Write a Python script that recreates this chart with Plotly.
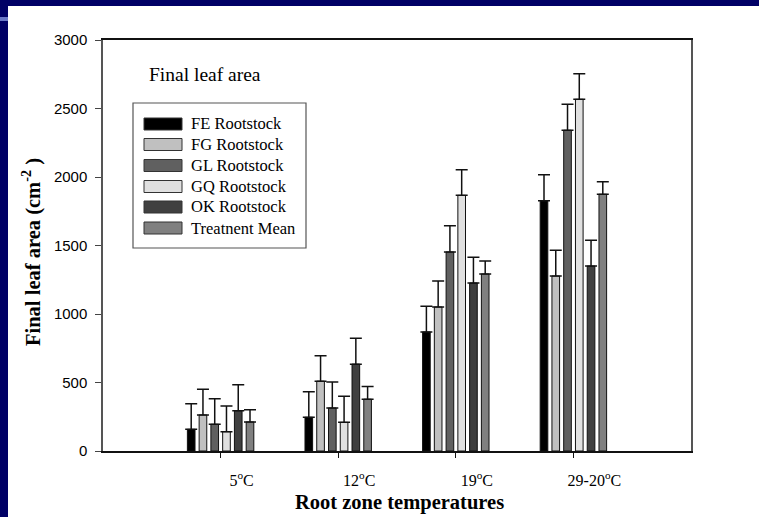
import plotly.graph_objects as go

categories = ["5<sup>o</sup>C", "12<sup>o</sup>C", "19<sup>o</sup>C", "29-20<sup>o</sup>C"]
cat_pos = [1, 2, 3, 4]
series_names = ["FE Rootstock", "FG Rootstock", "GL Rootstock", "GQ Rootstock", "OK Rootstock", "Treatnent Mean"]
fe = [158, 246, 869, 1827]
fg = [263, 510, 1051, 1277]
gl = [195, 314, 1453, 2341]
gq = [141, 209, 1866, 2567]
ok = [294, 634, 1226, 1350]
mean = [212, 378, 1292, 1874]
fe_err = [187, 187, 187, 190]
fg_err = [187, 186, 190, 188]
gl_err = [187, 190, 191, 190]
gq_err = [188, 190, 187, 187]
ok_err = [190, 189, 188, 188]
mean_err = [90, 92, 95, 92]
y_ticks = [0, 500, 1000, 1500, 2000, 2500, 3000]

values = [fe, fg, gl, gq, ok, mean]
errors = [fe_err, fg_err, gl_err, gq_err, ok_err, mean_err]
colors = ["#000000", "#c0c0c0", "#606060", "#e0e0e0", "#404040", "#808080"]

SERIF = "Liberation Serif"
SANS = "Liberation Sans"

fig = go.Figure()
for name, v, e, c in zip(series_names, values, errors, colors):
    fig.add_trace(go.Bar(
        x=cat_pos, y=v, name=name,
        marker=dict(color=c, line=dict(color="#111111", width=1)),
        error_y=dict(type="data", array=e, arrayminus=[0] * len(e), symmetric=False,
                     color="#111111", thickness=1.5, width=6),
        showlegend=False,
    ))

# pixel -> paper helpers
L, R, T, B = 103, 691, 40, 451
W, H = R - L, B - T
def px(x):
    return (x - L) / W
def py(y):
    return (B - y) / H

shapes = []
annotations = []

# slide background strips
shapes.append(dict(type="rect", xref="paper", yref="paper", x0=px(0), x1=px(8), y0=py(0), y1=py(517),
                   fillcolor="#000066", line=dict(width=0)))
shapes.append(dict(type="rect", xref="paper", yref="paper", x0=px(0), x1=px(759), y0=py(0), y1=py(6),
                   fillcolor="#000066", line=dict(width=0)))
shapes.append(dict(type="rect", xref="paper", yref="paper", x0=px(0), x1=px(8), y0=py(17), y1=py(21),
                   fillcolor="#6a78c8", line=dict(width=0)))

# legend box
shapes.append(dict(type="rect", xref="paper", yref="paper", x0=px(133), x1=px(306), y0=py(103), y1=py(248),
                   line=dict(color="#555555", width=1.2), fillcolor="rgba(0,0,0,0)"))
row_y = [124, 144.5, 165.5, 186.5, 207, 228]
for name, c, ry in zip(series_names, colors, row_y):
    shapes.append(dict(type="rect", xref="paper", yref="paper", x0=px(144), x1=px(182),
                       y0=py(ry + 6), y1=py(ry - 6), fillcolor=c, line=dict(color="#333333", width=1)))
    annotations.append(dict(xref="paper", yref="paper", x=px(189), y=py(ry), text=name, showarrow=False,
                            xanchor="left", yanchor="middle", font=dict(family=SERIF, size=16.5, color="#000")))

annotations.append(dict(xref="paper", yref="paper", x=px(147), y=py(74), text="Final leaf area", showarrow=False,
                        xanchor="left", yanchor="middle", font=dict(family=SERIF, size=19.5, color="#000")))
annotations.append(dict(xref="paper", yref="paper", x=px(400), y=py(502), text="<b>Root zone temperatures</b>",
                        showarrow=False, xanchor="center", yanchor="middle",
                        font=dict(family=SERIF, size=20.5, color="#000")))
annotations.append(dict(xref="paper", yref="paper", x=px(31), y=py(252),
                        text="<b>Final leaf area (cm<sup>-2</sup> )</b>", showarrow=False, textangle=-90,
                        xanchor="center", yanchor="middle", font=dict(family=SERIF, size=20.5, color="#000")))

fig.update_layout(
    width=759, height=517,
    margin=dict(l=L, r=759 - R, t=T, b=517 - B),
    paper_bgcolor="white", plot_bgcolor="white",
    barmode="group", bargap=0.4, bargroupgap=0.35,
    shapes=shapes, annotations=annotations,
    showlegend=False,
)
fig.update_xaxes(range=[0, 5], tickvals=cat_pos, ticktext=categories, ticks="outside", ticklen=5,
                 tickcolor="#111", showline=True, linecolor="#111", linewidth=2, mirror=True,
                 showgrid=False, zeroline=False, ticklabelshift=21, ticklabelstandoff=9,
                 tickfont=dict(family=SERIF, size=16, color="#000"))
fig.update_yaxes(range=[0, 3000], tickvals=y_ticks, ticks="outside", ticklen=6, tickcolor="#444",
                 showline=True, linecolor="#555", linewidth=1.5, mirror=True,
                 showgrid=False, zeroline=False, ticklabelstandoff=5,
                 tickfont=dict(family=SANS, size=15, color="#000"))

fig.write_html("out.html")
